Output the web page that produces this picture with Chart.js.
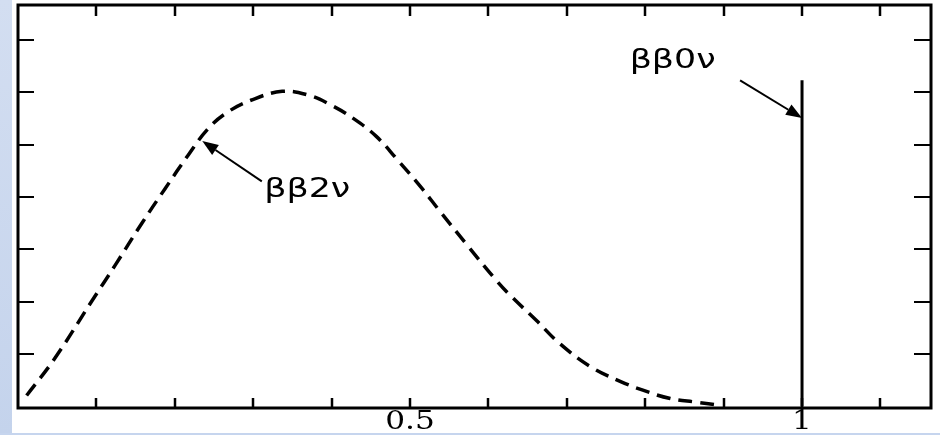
<!DOCTYPE html>
<html>
<head>
<meta charset="utf-8">
<script src="https://cdn.jsdelivr.net/npm/chart.js@4"></script>
<style>
  html, body { margin: 0; padding: 0; background: #fff; width: 940px; height: 435px; overflow: hidden; }
  #strip { position: absolute; left: 0; top: 0; width: 12px; height: 435px; background: linear-gradient(#d3def1, #c4d3ec); }
  #bottom { position: absolute; left: 0; top: 433px; width: 940px; height: 2px; background: #c6d5ee; }
  #wrap { position: absolute; left: 12px; top: 0; width: 928px; height: 433px; overflow: hidden; }
  canvas { display: block; }
</style>
</head>
<body>
<div id="strip"></div>
<div id="bottom"></div>
<div id="wrap"><canvas id="c" width="928" height="433"></canvas></div>
<script>
// ---- data ----
const energyX = [0.011, 0.047, 0.094, 0.124, 0.158, 0.188, 0.217, 0.242, 0.267, 0.297, 0.337, 0.370, 0.399, 0.429, 0.457, 0.483, 0.515, 0.536, 0.573, 0.610, 0.628, 0.662, 0.691, 0.730, 0.768, 0.797, 0.832, 0.866, 0.895];
const spectrum2nu = [0.21, 0.92, 2.01, 2.70, 3.50, 4.17, 4.80, 5.30, 5.62, 5.85, 6.02, 5.95, 5.76, 5.49, 5.16, 4.73, 4.17, 3.77, 3.08, 2.41, 2.12, 1.63, 1.20, 0.76, 0.48, 0.31, 0.15, 0.08, 0.02];
const line0nuX = [1.0, 1.0];
const line0nuY = [0.0, 6.23];
const xTickValues = [0.1, 0.2, 0.3, 0.4, 0.5, 0.6, 0.7, 0.8, 0.9, 1.0, 1.1];
const yTickValues = [1, 2, 3, 4, 5, 6, 7];
const xTickLabels = ['0.5', '1'];
const xTickLabelValues = [0.5, 1.0];
const labelTexts = ['ββ2ν', 'ββ0ν'];
const labelPos = [[0.369, 4.13], [0.835, 6.60]];      // label centres (data units)
const arrowFrom = [[0.311, 4.30], [0.921, 6.23]];     // arrow tails (data units)
const arrowTo = [[0.235, 5.07], [1.0, 5.51]];         // arrow tips (data units)

const curveData = energyX.map((x, i) => ({ x: x, y: spectrum2nu[i] }));
const lineData = line0nuX.map((x, i) => ({ x: x, y: line0nuY[i] }));

const framePlugin = {
  id: 'frame',
  afterDatasetsDraw(chart) {
    const { ctx, chartArea: a, scales } = chart;
    const xs = scales.x, ys = scales.y;
    ctx.save();
    ctx.strokeStyle = '#000';
    ctx.lineCap = 'butt';
    // ticks
    ctx.lineWidth = 2.5;
    xTickValues.forEach(v => {
      const p = Math.round(xs.getPixelForValue(v));
      ctx.beginPath(); ctx.moveTo(p, a.bottom); ctx.lineTo(p, a.bottom - 10); ctx.stroke();
      ctx.beginPath(); ctx.moveTo(p, a.top); ctx.lineTo(p, a.top + 11); ctx.stroke();
    });
    ctx.lineWidth = 2;
    yTickValues.forEach(v => {
      const p = Math.round(ys.getPixelForValue(v));
      ctx.beginPath(); ctx.moveTo(a.left, p); ctx.lineTo(a.left + 16, p); ctx.stroke();
      ctx.beginPath(); ctx.moveTo(a.right, p); ctx.lineTo(a.right - 17, p); ctx.stroke();
    });
    // frame
    ctx.lineWidth = 3;
    ctx.strokeRect(a.left, a.top, a.right - a.left, a.bottom - a.top);
    // arrows
    ctx.lineWidth = 2;
    ctx.fillStyle = '#000';
    arrowFrom.forEach((f, i) => {
      const x0 = xs.getPixelForValue(f[0]), y0 = ys.getPixelForValue(f[1]);
      const x1 = xs.getPixelForValue(arrowTo[i][0]), y1 = ys.getPixelForValue(arrowTo[i][1]);
      const ang = Math.atan2(y1 - y0, x1 - x0);
      const hl = 16, hw = 6;
      const bx = x1 - hl * Math.cos(ang), by = y1 - hl * Math.sin(ang);
      ctx.beginPath(); ctx.moveTo(x0, y0); ctx.lineTo(bx, by); ctx.stroke();
      ctx.beginPath();
      ctx.moveTo(x1, y1);
      ctx.lineTo(bx + hw * Math.sin(ang), by - hw * Math.cos(ang));
      ctx.lineTo(bx - hw * Math.sin(ang), by + hw * Math.cos(ang));
      ctx.closePath(); ctx.fill();
    });
    // annotation labels
    ctx.font = '27px "DejaVu Sans"';
    ctx.textAlign = 'center';
    ctx.textBaseline = 'middle';
    labelTexts.forEach((t, i) => {
      const px = xs.getPixelForValue(labelPos[i][0]), py = ys.getPixelForValue(labelPos[i][1]);
      const w = ctx.measureText(t).width;
      const sx = 86 / w;
      ctx.save();
      ctx.translate(px, py);
      ctx.scale(sx, 1);
      ctx.fillText(t, 0, 0);
      ctx.restore();
    });
    // x tick labels (slightly clipped by the bottom edge like the reference)
    ctx.font = '26px "DejaVu Serif"';
    ctx.textBaseline = 'alphabetic';
    xTickLabelValues.forEach((v, i) => {
      ctx.save();
      ctx.translate(xs.getPixelForValue(v), a.bottom + 21);
      ctx.scale(1.2, 1);
      ctx.fillText(xTickLabels[i], 0, 0);
      ctx.restore();
    });
    ctx.restore();
  }
};

new Chart(document.getElementById('c'), {
  type: 'line',
  data: {
    datasets: [
      { label: 'ββ2ν', data: curveData, borderColor: '#000', borderWidth: 3.5, borderDash: [14, 8], pointRadius: 0, tension: 0.4, fill: false },
      { label: 'ββ0ν', data: lineData, borderColor: '#000', borderWidth: 3, pointRadius: 0, fill: false }
    ]
  },
  options: {
    responsive: false,
    maintainAspectRatio: false,
    devicePixelRatio: 1,
    animation: false,
    layout: { padding: { left: 6, right: 9, top: 5, bottom: 25 } },
    plugins: { legend: { display: false }, tooltip: { enabled: false } },
    scales: {
      x: { type: 'linear', min: 0, max: 1.1645, display: false },
      y: { type: 'linear', min: -0.03, max: 7.67, display: false }
    }
  },
  plugins: [framePlugin]
});
</script>
</body>
</html>
